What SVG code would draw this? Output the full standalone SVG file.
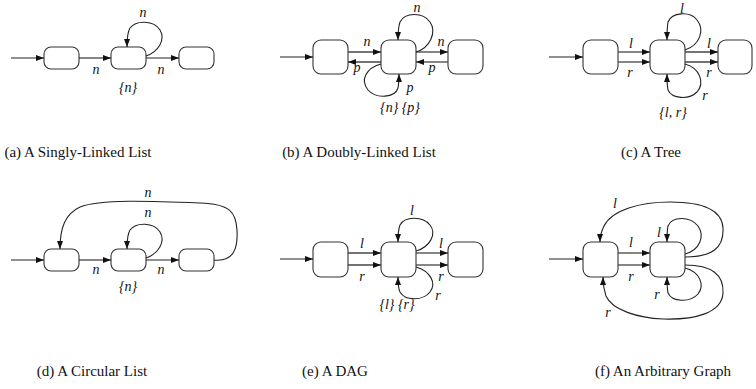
<svg xmlns="http://www.w3.org/2000/svg" width="756" height="389" viewBox="0 0 756 389">
  <style>
    .node { fill: #fff; stroke: #333; stroke-width: 1.1; }
    .edge { fill: none; stroke: #222; stroke-width: 1.1; marker-end: url(#arrow); }
    .par { stroke: #444; stroke-width: 1.3; }
    .lbl { font-family: "Liberation Serif", "Times New Roman", serif; font-style: italic; font-size: 14px; fill: #111; text-anchor: middle; }
    .cap { font-family: "Liberation Serif", "Times New Roman", serif; font-size: 15px; fill: #111; text-anchor: middle; }
  </style>
  <defs>
    <marker id="arrow" markerUnits="userSpaceOnUse" markerWidth="9" markerHeight="7" refX="8" refY="3" orient="auto">
      <path d="M0,0 L8,3 L0,6 z" fill="#111"/>
    </marker>
  </defs>
  <rect width="756" height="389" fill="#fff"/>

  <!-- (a) singly-linked list -->
  <g id="a-n1"><rect class="node" x="44" y="47" width="35" height="22" rx="7"/></g>
  <g id="a-n2"><rect class="node" x="111" y="47" width="35" height="22" rx="7"/></g>
  <g id="a-n3"><rect class="node" x="179" y="47" width="35" height="22" rx="7"/></g>
  <g id="a-edges">
    <path class="edge" d="M11,58 L44,58"/>
    <path class="edge" d="M79,58 L111,58"/>
    <path class="edge" d="M146,58 L179,58"/>
    <path class="edge" d="M146,56 C158,52 166,40 160,30 C154,20 136,20 130,28 C127,33 127,40 127,47"/>
  </g>
  <g id="a-labels">
    <text class="lbl" x="143" y="17">n</text>
    <text class="lbl" x="96" y="74">n</text>
    <text class="lbl" x="161" y="74">n</text>
    <text class="lbl" x="128" y="92">{n}</text>
  </g>
  <text class="cap" x="78" y="157">(a) A Singly-Linked List</text>

  <!-- (b) doubly-linked list -->
  <g id="b-n1"><rect class="node" x="313" y="40" width="35" height="34" rx="8"/></g>
  <g id="b-n2"><rect class="node" x="381" y="40" width="35" height="34" rx="8"/></g>
  <g id="b-n3"><rect class="node" x="448" y="40" width="35" height="34" rx="8"/></g>
  <g id="b-edges">
    <path class="edge" d="M280,57 L313,57"/>
    <path class="edge par" d="M348,52 L381,52"/>
    <path class="edge par" d="M381,62 L348,62"/>
    <path class="edge par" d="M416,52 L448,52"/>
    <path class="edge par" d="M448,62 L416,62"/>
    <path class="edge" d="M416,52 C430,48 437,32 430,22 C423,12 405,12 400,22 C398,28 398,34 398,40"/>
    <path class="edge" d="M381,64 C366,68 360,80 368,90 C376,99 395,98 398,88 C399,83 399,80 399,74"/>
  </g>
  <g id="b-labels">
    <text class="lbl" x="417" y="12">n</text>
    <text class="lbl" x="367" y="46">n</text>
    <text class="lbl" x="357" y="72">p</text>
    <text class="lbl" x="441" y="46">n</text>
    <text class="lbl" x="432" y="72">p</text>
    <text class="lbl" x="410" y="92">p</text>
    <text class="lbl" x="400" y="112">{n} {p}</text>
  </g>
  <text class="cap" x="359" y="157">(b) A Doubly-Linked List</text>

  <!-- (c) tree -->
  <g id="c-n1"><rect class="node" x="583" y="40" width="35" height="34" rx="8"/></g>
  <g id="c-n2"><rect class="node" x="650" y="40" width="35" height="34" rx="8"/></g>
  <g id="c-n3"><rect class="node" x="718" y="40" width="34" height="34" rx="8"/></g>
  <g id="c-edges">
    <path class="edge" d="M549,57 L583,57"/>
    <path class="edge par" d="M618,52 L650,52"/>
    <path class="edge par" d="M618,62 L650,62"/>
    <path class="edge par" d="M685,52 L718,52"/>
    <path class="edge par" d="M685,62 L718,62"/>
    <path class="edge" d="M685,50 C700,45 705,30 697,20 C690,11 672,12 668,22 C667,28 667,34 667,40"/>
    <path class="edge" d="M685,64 C700,68 705,83 697,92 C689,100 672,99 668,90 C667,85 667,80 667,74"/>
  </g>
  <g id="c-labels">
    <text class="lbl" x="682" y="13">l</text>
    <text class="lbl" x="631" y="48">l</text>
    <text class="lbl" x="630" y="77">r</text>
    <text class="lbl" x="709" y="48">l</text>
    <text class="lbl" x="709" y="77">r</text>
    <text class="lbl" x="705" y="100">r</text>
    <text class="lbl" x="673" y="117">{l, r}</text>
  </g>
  <text class="cap" x="651" y="157">(c) A Tree</text>

  <!-- (d) circular list -->
  <g id="d-n1"><rect class="node" x="44" y="249" width="35" height="22" rx="7"/></g>
  <g id="d-n2"><rect class="node" x="111" y="249" width="35" height="22" rx="7"/></g>
  <g id="d-n3"><rect class="node" x="179" y="249" width="35" height="22" rx="7"/></g>
  <g id="d-edges">
    <path class="edge" d="M11,260 L44,260"/>
    <path class="edge" d="M79,260 L111,260"/>
    <path class="edge" d="M146,260 L179,260"/>
    <path class="edge" d="M146,258 C158,254 166,242 160,232 C154,222 136,222 130,230 C127,235 127,242 127,249"/>
    <path class="edge" d="M214,260 C234,262 238,248 237,230 C236,212 230,204 200,203 C150,201 100,199 80,207 C65,214 60,228 60,249"/>
  </g>
  <g id="d-labels">
    <text class="lbl" x="148" y="197">n</text>
    <text class="lbl" x="148" y="217">n</text>
    <text class="lbl" x="96" y="274">n</text>
    <text class="lbl" x="161" y="274">n</text>
    <text class="lbl" x="128" y="291">{n}</text>
  </g>
  <text class="cap" x="92" y="376">(d) A Circular List</text>

  <!-- (e) DAG -->
  <g id="e-n1"><rect class="node" x="313" y="242" width="35" height="35" rx="8"/></g>
  <g id="e-n2"><rect class="node" x="381" y="242" width="35" height="35" rx="8"/></g>
  <g id="e-n3"><rect class="node" x="448" y="242" width="35" height="35" rx="8"/></g>
  <g id="e-edges">
    <path class="edge" d="M280,259 L313,259"/>
    <path class="edge par" d="M348,253 L381,253"/>
    <path class="edge par" d="M348,265 L381,265"/>
    <path class="edge par" d="M416,253 L448,253"/>
    <path class="edge par" d="M416,265 L448,265"/>
    <path class="edge" d="M416,251 C430,247 437,234 430,225 C423,216 405,216 400,225 C398,230 398,236 398,242"/>
    <path class="edge" d="M416,267 C430,271 437,283 430,292 C423,301 405,301 400,292 C398,288 398,283 398,277"/>
  </g>
  <g id="e-labels">
    <text class="lbl" x="412" y="215">l</text>
    <text class="lbl" x="362" y="248">l</text>
    <text class="lbl" x="362" y="281">r</text>
    <text class="lbl" x="441" y="248">l</text>
    <text class="lbl" x="441" y="281">r</text>
    <text class="lbl" x="438" y="300">r</text>
    <text class="lbl" x="397" y="309">{l} {r}</text>
  </g>
  <text class="cap" x="335" y="376">(e) A DAG</text>

  <!-- (f) arbitrary graph -->
  <g id="f-n1"><rect class="node" x="583" y="242" width="35" height="35" rx="8"/></g>
  <g id="f-n2"><rect class="node" x="650" y="242" width="35" height="35" rx="8"/></g>
  <g id="f-edges">
    <path class="edge" d="M549,259 L583,259"/>
    <path class="edge par" d="M618,253 L650,253"/>
    <path class="edge par" d="M618,265 L650,265"/>
    <path class="edge" d="M685,254 C700,250 705,236 698,226 C690,216 672,216 668,226 C667,231 667,236 667,242"/>
    <path class="edge" d="M685,257 C712,257 724,248 723,228 C722,208 700,202 670,202 C640,202 612,210 604,226 C601,232 600,237 600,242"/>
    <path class="edge" d="M685,268 C700,272 705,285 698,294 C690,303 672,302 668,293 C667,288 667,283 667,277"/>
    <path class="edge" d="M685,265 C712,265 724,275 723,293 C722,313 695,320 663,319 C638,318 612,310 606,296 C604,290 603,284 603,277"/>
  </g>
  <g id="f-labels">
    <text class="lbl" x="615" y="208">l</text>
    <text class="lbl" x="659" y="237">l</text>
    <text class="lbl" x="631" y="247">l</text>
    <text class="lbl" x="631" y="281">r</text>
    <text class="lbl" x="657" y="299">r</text>
    <text class="lbl" x="608" y="317">r</text>
  </g>
  <text class="cap" x="663" y="376">(f) An Arbitrary Graph</text>
</svg>
